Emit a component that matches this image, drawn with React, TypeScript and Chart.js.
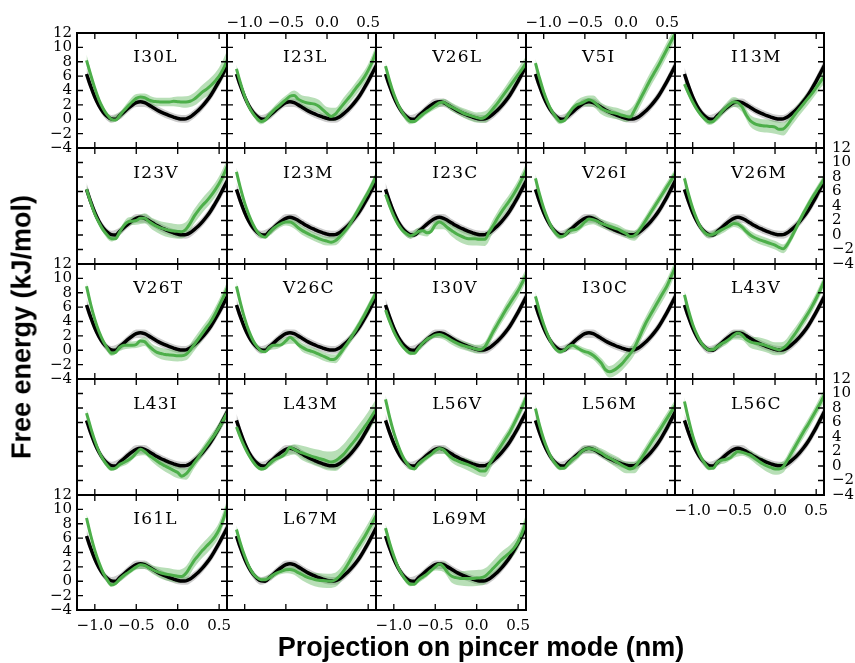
import React, { useEffect, useRef } from 'react';
import { Chart, registerables } from 'chart.js';

Chart.register(...registerables);

// ---------- data ----------
const xGrid = [
  -1.1, -1.05, -1.0, -0.95, -0.9, -0.85, -0.8, -0.75, -0.7, -0.65,
  -0.6, -0.55, -0.5, -0.45, -0.4, -0.35, -0.3, -0.25, -0.2, -0.15,
  -0.1, -0.05, 0.0, 0.05, 0.1, 0.15, 0.2, 0.25, 0.3, 0.35,
  0.4, 0.45, 0.5, 0.55, 0.6,
];
const bandGrid = [-1.1, -1.0, -0.9, -0.8, -0.7, -0.6, -0.5, -0.4, -0.3, -0.2, -0.1, 0.0, 0.1, 0.2, 0.3, 0.4, 0.5, 0.6];

const xTickValues = [-1.0, -0.5, 0.0, 0.5];
const yTickValues = [-4, -2, 0, 2, 4, 6, 8, 10, 12];

// wild type (black)
const WT = [6.3, 4.6, 3.1, 1.9, 1.0, 0.4, 0.05, 0.0, 0.5, 1.0, 1.5, 1.95, 2.3, 2.45, 2.3, 2.0, 1.65, 1.3, 1.0, 0.75, 0.5, 0.3, 0.12, 0.02, 0.05, 0.3, 0.75, 1.25, 1.85, 2.55, 3.35, 4.3, 5.3, 6.4, 7.5];
const WT_sd = [0.9, 0.6, 0.55, 0.55, 0.55, 0.55, 0.6, 0.6, 0.55, 0.55, 0.55, 0.55, 0.55, 0.6, 0.6, 0.65, 0.7, 0.8];

// mutants (green)
const I30L = [8.2, 6.2, 4.3, 2.7, 1.5, 0.6, 0.0, -0.1, 0.5, 1.2, 1.8, 2.4, 2.9, 3.1, 3.0, 2.7, 2.5, 2.45, 2.4, 2.4, 2.4, 2.5, 2.45, 2.4, 2.4, 2.5, 2.8, 3.3, 3.8, 4.2, 4.7, 5.3, 6.0, 7.0, 8.3];
const I30L_sd = [0.8, 0.4, 0.3, 0.4, 0.5, 0.6, 0.6, 0.6, 0.6, 0.6, 0.6, 0.7, 0.8, 0.9, 1.0, 1.1, 1.2, 1.3];
const I23L = [7.0, 5.0, 3.2, 1.8, 0.8, 0.1, -0.3, -0.1, 0.6, 1.2, 1.7, 2.2, 2.7, 3.2, 3.3, 2.8, 2.5, 2.3, 2.2, 2.1, 1.8, 1.3, 0.8, 0.4, 0.7, 1.4, 2.1, 2.8, 3.5, 4.3, 5.0, 5.8, 6.8, 8.0, 9.5];
const I23L_sd = [0.6, 0.4, 0.3, 0.4, 0.5, 0.6, 0.6, 0.7, 0.8, 0.9, 0.9, 0.9, 0.9, 0.9, 0.9, 0.9, 0.9, 0.9];
const V26L = [7.4, 5.3, 3.5, 2.1, 1.0, 0.2, -0.3, -0.3, 0.2, 0.7, 1.1, 1.5, 1.9, 2.3, 2.35, 2.0, 1.7, 1.4, 1.1, 0.8, 0.6, 0.4, 0.25, 0.1, 0.3, 0.8, 1.5, 2.2, 3.0, 3.8, 4.6, 5.4, 6.2, 7.0, 7.9];
const V26L_sd = [0.5, 0.4, 0.4, 0.4, 0.4, 0.4, 0.5, 0.5, 0.6, 0.6, 0.7, 0.7, 0.8, 0.8, 0.8, 0.9, 0.9, 0.9];
const V5I = [7.8, 5.7, 3.8, 2.3, 1.1, 0.3, -0.3, -0.2, 0.7, 1.5, 2.0, 2.2, 2.5, 2.7, 2.5, 2.0, 1.5, 1.2, 1.0, 0.9, 0.75, 0.55, 0.4, 0.3, 1.2, 2.3, 3.4, 4.5, 5.6, 6.6, 7.6, 8.7, 9.8, 10.9, 12.0];
const V5I_sd = [0.6, 0.4, 0.4, 0.4, 0.5, 0.6, 0.7, 0.8, 0.8, 0.8, 0.8, 0.8, 0.9, 1.0, 1.0, 1.0, 1.0, 1.0];
const I13M = [4.9, 3.6, 2.4, 1.4, 0.6, 0.0, -0.4, -0.3, 0.3, 1.0, 1.6, 2.1, 2.4, 2.3, 1.7, 0.6, -0.2, -0.6, -0.8, -0.9, -0.95, -1.0, -1.1, -1.4, -1.35, -0.8, 0.0, 0.8, 1.5, 2.2, 2.9, 3.6, 4.4, 5.2, 6.0];
const I13M_sd = [0.6, 0.4, 0.3, 0.4, 0.5, 0.6, 0.7, 0.7, 0.8, 0.9, 0.9, 0.9, 0.9, 0.9, 0.9, 0.9, 0.9, 1.0];
const I23V = [6.3, 4.5, 2.9, 1.7, 0.7, 0.0, -0.5, -0.5, 0.4, 1.3, 1.8, 1.9, 2.0, 2.3, 2.3, 1.9, 1.5, 1.2, 0.95, 0.8, 0.65, 0.55, 0.5, 0.45, 0.8, 1.6, 2.6, 3.4, 4.1, 4.7, 5.4, 6.2, 7.1, 8.2, 9.5];
const I23V_sd = [0.6, 0.4, 0.4, 0.4, 0.5, 0.6, 0.6, 0.7, 0.8, 0.9, 1.0, 1.0, 1.0, 1.0, 1.0, 1.0, 1.0, 1.0];
const I23M = [8.7, 6.4, 4.4, 2.8, 1.5, 0.5, -0.1, -0.3, 0.3, 0.9, 1.3, 1.6, 1.8, 1.8, 1.5, 1.0, 0.6, 0.3, 0.0, -0.25, -0.5, -0.7, -0.85, -1.0, -0.8, -0.3, 0.3, 1.0, 1.9, 2.9, 3.9, 4.9, 5.9, 7.0, 8.2];
const I23M_sd = [0.6, 0.4, 0.3, 0.3, 0.4, 0.5, 0.5, 0.6, 0.6, 0.6, 0.6, 0.6, 0.6, 0.6, 0.6, 0.6, 0.6, 0.6];
const I23C = [5.6, 4.0, 2.6, 1.5, 0.7, 0.2, -0.1, 0.1, 0.5, 0.6, 0.3, 0.5, 1.4, 1.8, 1.5, 1.0, 0.6, 0.2, -0.1, -0.35, -0.5, -0.5, -0.55, -0.6, -0.6, 0.4, 1.3, 2.3, 3.2, 4.0, 4.8, 5.7, 6.7, 7.8, 9.0];
const I23C_sd = [0.6, 0.4, 0.4, 0.4, 0.5, 0.5, 0.6, 0.7, 0.8, 0.9, 0.9, 0.9, 0.9, 0.9, 0.9, 0.9, 0.9, 0.9];
const V26I = [7.8, 5.6, 3.7, 2.2, 1.0, 0.2, -0.2, -0.1, 0.5, 0.7, 0.8, 1.2, 1.8, 2.2, 2.1, 1.9, 1.6, 1.4, 1.2, 1.0, 0.8, 0.5, 0.2, -0.2, -0.1, 0.5, 1.3, 2.2, 3.1, 4.0, 4.9, 5.8, 6.7, 7.6, 8.5];
const V26I_sd = [0.6, 0.4, 0.4, 0.4, 0.5, 0.5, 0.6, 0.6, 0.6, 0.6, 0.6, 0.6, 0.7, 0.7, 0.7, 0.7, 0.7, 0.7];
const V26M = [7.8, 5.6, 3.7, 2.2, 1.0, 0.3, 0.0, 0.1, 0.4, 0.7, 1.0, 1.3, 1.6, 1.5, 1.1, 0.5, 0.0, -0.35, -0.6, -0.8, -1.0, -1.2, -1.4, -1.7, -1.9, -1.3, -0.3, 0.8, 2.0, 3.1, 4.1, 5.1, 6.0, 6.9, 7.8];
const V26M_sd = [0.6, 0.4, 0.4, 0.4, 0.5, 0.5, 0.5, 0.5, 0.6, 0.6, 0.6, 0.6, 0.6, 0.6, 0.6, 0.6, 0.6, 0.6];
const V26T = [8.9, 6.4, 4.3, 2.6, 1.3, 0.3, -0.4, -0.3, 0.4, 0.7, 0.7, 0.7, 0.8, 1.3, 1.2, 0.6, 0.1, -0.3, -0.45, -0.6, -0.65, -0.7, -0.75, -0.75, -0.6, 0.0, 0.8, 1.6, 2.4, 3.2, 4.0, 5.0, 6.2, 7.4, 8.7];
const V26T_sd = [0.6, 0.4, 0.3, 0.4, 0.5, 0.5, 0.5, 0.6, 0.7, 0.8, 0.8, 0.8, 0.8, 0.9, 0.9, 0.9, 0.9, 0.9];
const V26C = [8.9, 6.5, 4.4, 2.7, 1.4, 0.5, -0.1, -0.2, 0.4, 0.7, 0.7, 0.8, 1.3, 1.8, 1.4, 0.8, 0.4, 0.1, -0.1, -0.3, -0.55, -0.8, -1.05, -1.3, -1.2, -0.6, 0.2, 1.0, 1.9, 2.8, 3.8, 4.8, 5.9, 7.0, 8.1];
const V26C_sd = [0.6, 0.4, 0.3, 0.3, 0.4, 0.5, 0.5, 0.5, 0.6, 0.6, 0.6, 0.6, 0.6, 0.6, 0.6, 0.6, 0.6, 0.6];
const I30V = [5.6, 4.0, 2.6, 1.5, 0.6, 0.0, -0.4, -0.4, 0.3, 1.0, 1.5, 1.8, 2.1, 2.2, 2.0, 1.7, 1.35, 1.05, 0.8, 0.6, 0.45, 0.3, 0.15, 0.1, 0.5, 1.5, 2.6, 3.6, 4.6, 5.6, 6.5, 7.4, 8.3, 9.4, 10.5];
const I30V_sd = [0.6, 0.4, 0.3, 0.3, 0.4, 0.4, 0.4, 0.5, 0.6, 0.6, 0.6, 0.6, 0.7, 0.8, 0.8, 0.9, 0.9, 0.9];
const I30C = [7.5, 5.4, 3.6, 2.1, 0.9, 0.1, -0.2, 0.0, 0.5, 0.7, 0.4, 0.05, -0.2, -0.35, -0.7, -1.2, -1.8, -2.7, -3.0, -2.8, -2.4, -1.9, -1.2, -0.5, 0.3, 1.5, 2.8, 4.0, 5.0, 6.0, 7.0, 8.0, 9.0, 10.3, 11.6];
const I30C_sd = [0.6, 0.4, 0.3, 0.3, 0.4, 0.4, 0.5, 0.6, 0.7, 0.8, 0.9, 1.0, 1.0, 1.0, 1.0, 1.0, 1.0, 1.0];
const L43V = [7.7, 5.5, 3.6, 2.2, 1.1, 0.4, 0.05, 0.1, 0.5, 0.9, 1.2, 1.6, 2.1, 2.4, 2.1, 1.5, 1.15, 1.0, 0.9, 0.8, 0.6, 0.4, 0.2, 0.05, 0.3, 0.8, 1.6, 2.4, 3.3, 4.2, 5.1, 6.1, 7.2, 8.4, 9.7];
const L43V_sd = [0.6, 0.4, 0.3, 0.3, 0.4, 0.5, 0.6, 0.7, 0.8, 0.9, 0.9, 0.9, 0.9, 0.9, 0.8, 0.8, 0.8, 0.8];
const L43I = [7.3, 5.3, 3.5, 2.0, 0.9, 0.1, -0.4, -0.3, 0.2, 0.5, 0.8, 1.2, 1.8, 2.3, 2.0, 1.5, 1.1, 0.7, 0.3, 0.0, -0.3, -0.6, -0.9, -1.4, -1.1, -0.4, 0.4, 1.2, 2.0, 2.8, 3.6, 4.4, 5.3, 6.3, 7.4];
const L43I_sd = [0.6, 0.4, 0.3, 0.3, 0.4, 0.5, 0.5, 0.5, 0.6, 0.7, 0.8, 0.8, 0.8, 0.7, 0.7, 0.7, 0.7, 0.7];
const L43M = [5.4, 3.9, 2.6, 1.5, 0.6, -0.1, -0.4, -0.3, 0.3, 0.8, 1.1, 1.3, 1.8, 2.6, 2.3, 2.0, 1.8, 1.6, 1.4, 1.2, 1.05, 0.9, 0.7, 0.55, 0.7, 1.1, 1.6, 2.3, 3.0, 3.7, 4.5, 5.3, 6.1, 7.0, 7.9];
const L43M_sd = [0.6, 0.4, 0.3, 0.3, 0.4, 0.4, 0.5, 0.7, 1.0, 1.1, 1.2, 1.3, 1.4, 1.4, 1.4, 1.4, 1.4, 1.4];
const L56V = [9.2, 6.7, 4.6, 2.9, 1.5, 0.5, -0.2, -0.4, 0.3, 0.8, 1.2, 1.6, 2.1, 2.4, 2.2, 1.6, 1.1, 0.8, 0.55, 0.35, 0.15, -0.1, -0.4, -0.7, -0.7, 0.2, 1.1, 2.0, 2.9, 3.8, 4.7, 5.8, 7.0, 8.2, 9.5];
const L56V_sd = [0.6, 0.4, 0.3, 0.3, 0.4, 0.4, 0.5, 0.5, 0.6, 0.7, 0.8, 0.8, 0.8, 0.8, 0.8, 0.8, 0.8, 0.8];
const L56M = [7.9, 5.6, 3.7, 2.2, 1.0, 0.2, -0.3, -0.3, 0.3, 0.9, 1.3, 1.9, 2.3, 2.4, 2.3, 2.1, 1.8, 1.4, 1.1, 0.8, 0.45, 0.1, -0.2, -0.4, -0.2, 0.5, 1.3, 2.2, 3.1, 4.0, 4.8, 5.7, 6.6, 7.5, 8.4];
const L56M_sd = [0.6, 0.4, 0.3, 0.3, 0.4, 0.5, 0.5, 0.5, 0.6, 0.7, 0.8, 0.8, 0.8, 0.8, 0.8, 0.8, 0.8, 0.8];
const L56C = [8.9, 6.4, 4.2, 2.5, 1.2, 0.3, -0.3, -0.3, 0.5, 0.8, 0.9, 1.1, 1.6, 2.0, 1.9, 1.7, 1.5, 1.1, 0.7, 0.3, 0.0, -0.2, -0.4, -0.4, -0.1, 0.8, 1.8, 2.8, 3.8, 4.8, 5.7, 6.7, 7.7, 8.7, 9.8];
const L56C_sd = [0.6, 0.4, 0.3, 0.3, 0.4, 0.5, 0.5, 0.5, 0.6, 0.7, 0.8, 0.8, 0.8, 0.8, 0.8, 0.8, 0.8, 0.9];
const I61L = [8.8, 6.4, 4.3, 2.6, 1.2, 0.2, -0.5, -0.3, 0.3, 0.8, 1.2, 1.6, 2.0, 2.3, 2.2, 1.9, 1.6, 1.35, 1.15, 1.0, 0.9, 0.8, 0.7, 0.65, 1.1, 2.0, 2.9, 3.6, 4.3, 4.9, 5.5, 6.2, 7.2, 8.6, 10.4];
const I61L_sd = [0.6, 0.4, 0.3, 0.3, 0.4, 0.4, 0.4, 0.5, 0.6, 0.8, 0.9, 0.9, 1.0, 1.0, 1.0, 1.0, 1.0, 1.0];
const L67M = [7.2, 5.2, 3.5, 2.1, 1.1, 0.5, 0.2, 0.2, 0.5, 0.9, 1.2, 1.4, 1.6, 1.65, 1.5, 1.2, 0.9, 0.6, 0.4, 0.25, 0.15, 0.1, 0.05, 0.0, 0.2, 0.7, 1.4, 2.3, 3.3, 4.3, 5.2, 6.1, 7.1, 8.1, 9.2];
const L67M_sd = [0.6, 0.4, 0.3, 0.3, 0.4, 0.4, 0.5, 0.6, 0.8, 0.9, 1.0, 1.0, 1.0, 1.0, 1.0, 1.0, 1.0, 1.0];
const L69M = [7.4, 5.3, 3.5, 2.0, 0.9, 0.1, -0.4, -0.4, 0.2, 0.6, 1.0, 1.5, 2.0, 2.4, 2.0, 1.2, 0.7, 0.5, 0.4, 0.4, 0.4, 0.4, 0.45, 0.5, 0.7, 1.2, 1.8, 2.4, 3.0, 3.5, 4.0, 4.6, 5.5, 6.8, 8.4];
const L69M_sd = [0.6, 0.4, 0.3, 0.3, 0.4, 0.4, 0.5, 0.7, 0.9, 1.0, 1.1, 1.1, 1.1, 1.1, 1.1, 1.0, 1.0, 1.0];

const mutants = [
  { name: 'I30L', energy: I30L, spread: I30L_sd },
  { name: 'I23L', energy: I23L, spread: I23L_sd },
  { name: 'V26L', energy: V26L, spread: V26L_sd },
  { name: 'V5I', energy: V5I, spread: V5I_sd },
  { name: 'I13M', energy: I13M, spread: I13M_sd },
  { name: 'I23V', energy: I23V, spread: I23V_sd },
  { name: 'I23M', energy: I23M, spread: I23M_sd },
  { name: 'I23C', energy: I23C, spread: I23C_sd },
  { name: 'V26I', energy: V26I, spread: V26I_sd },
  { name: 'V26M', energy: V26M, spread: V26M_sd },
  { name: 'V26T', energy: V26T, spread: V26T_sd },
  { name: 'V26C', energy: V26C, spread: V26C_sd },
  { name: 'I30V', energy: I30V, spread: I30V_sd },
  { name: 'I30C', energy: I30C, spread: I30C_sd },
  { name: 'L43V', energy: L43V, spread: L43V_sd },
  { name: 'L43I', energy: L43I, spread: L43I_sd },
  { name: 'L43M', energy: L43M, spread: L43M_sd },
  { name: 'L56V', energy: L56V, spread: L56V_sd },
  { name: 'L56M', energy: L56M, spread: L56M_sd },
  { name: 'L56C', energy: L56C, spread: L56C_sd },
  { name: 'I61L', energy: I61L, spread: I61L_sd },
  { name: 'L67M', energy: L67M, spread: L67M_sd },
  { name: 'L69M', energy: L69M, spread: L69M_sd },
];

// ---------- layout / style ----------
const COL_EDGES = [77, 227, 376, 526, 675, 824];
const ROW_EDGES = [33, 148, 264, 379, 495, 610];
const M = 45;
const X_MIN = -1.215;
const X_MAX = 0.595;
const Y_MIN = -4;
const Y_MAX = 12;
const LABEL_X = -0.535;
const LABEL_Y = 7.9;
const GREEN = '#4daf4a';
const GREEN_BAND = 'rgba(77,175,74,0.4)';
const GRAY_BAND = 'rgba(0,0,0,0.2)';
const TICK_FONT = { family: '"DejaVu Serif", serif', size: 15 };

const fmtX = (v: number) => (v < 0 ? '\u2212' : '') + Math.abs(v).toFixed(1);
const fmtY = (v: number) => (v < 0 ? '\u2212' : '') + String(Math.abs(v));

const panelDecor = {
  id: 'panelDecor',
  afterDatasetsDraw(chart: any, _args: any, opts: any) {
    const { ctx, chartArea: a, scales } = chart;
    const xs = scales.x;
    const ys = scales.y;
    ctx.save();
    ctx.strokeStyle = '#000';
    ctx.lineWidth = 1.3;
    ctx.beginPath();
    for (const v of xTickValues) {
      const px = xs.getPixelForValue(v);
      ctx.moveTo(px, a.bottom);
      ctx.lineTo(px, a.bottom - 6);
      ctx.moveTo(px, a.top);
      ctx.lineTo(px, a.top + 6);
    }
    for (const v of yTickValues) {
      if (v <= Y_MIN || v >= Y_MAX) continue;
      const py = ys.getPixelForValue(v);
      ctx.moveTo(a.left, py);
      ctx.lineTo(a.left + 6, py);
      ctx.moveTo(a.right, py);
      ctx.lineTo(a.right - 6, py);
    }
    ctx.stroke();
    ctx.lineWidth = 2;
    ctx.strokeRect(a.left, a.top, a.right - a.left, a.bottom - a.top);
    ctx.fillStyle = '#000';
    ctx.font = '17px "DejaVu Serif", serif';
    try { (ctx as any).letterSpacing = '1.2px'; } catch (e) { /* ignore */ }
    ctx.textAlign = 'left';
    ctx.textBaseline = 'alphabetic';
    ctx.fillText(opts.label, xs.getPixelForValue(LABEL_X), ys.getPixelForValue(LABEL_Y));
    ctx.restore();
  },
};

function buildConfig(idx: number, row: number, col: number): any {
  const m = mutants[idx];
  const line = (vals: number[]) => xGrid.map((x, i) => ({ x, y: vals[i] }));
  const band = (vals: number[], sd: number[], sign: number) =>
    bandGrid.map((x, i) => ({ x, y: vals[2 * i] + sign * sd[i] }));
  const clear = 'rgba(0,0,0,0)';

  const showYLeft = col === 0 && row % 2 === 0;
  const showYRight = col === 4 && row % 2 === 1;
  const showXTop = row === 0 && (col === 1 || col === 3);
  const showXBottom = (row === 4 && (col === 0 || col === 2)) || (row === 3 && col === 4);

  const xAxis = (position: string, show: boolean, padding: number) => ({
    type: 'linear',
    axis: 'x',
    position,
    min: X_MIN,
    max: X_MAX,
    afterBuildTicks: (s: any) => { s.ticks = xTickValues.map((v) => ({ value: v })); },
    afterFit: (s: any) => { s.height = M; },
    grid: { display: false, drawTicks: false },
    border: { display: false },
    ticks: { display: show, font: TICK_FONT, color: '#000', padding, autoSkip: false, maxRotation: 0, callback: (v: number) => fmtX(v) },
  });
  const yAxis = (position: string, show: boolean, padding: number) => ({
    type: 'linear',
    axis: 'y',
    position,
    min: Y_MIN,
    max: Y_MAX,
    afterFit: (s: any) => { s.width = M; },
    grid: { display: false, drawTicks: false },
    border: { display: false },
    ticks: { display: show, stepSize: 2, font: TICK_FONT, color: '#000', padding, autoSkip: false, callback: (v: number) => fmtY(v) },
  });

  return {
    type: 'line',
    data: {
      datasets: [
        { label: 'wt-low', data: band(WT, WT_sd, -1), borderColor: clear, borderWidth: 0, fill: false, order: 6 },
        { label: 'wt-high', data: band(WT, WT_sd, 1), borderColor: clear, borderWidth: 0, fill: { target: 0 }, backgroundColor: GRAY_BAND, order: 5 },
        { label: 'mut-low', data: band(m.energy, m.spread, -1), borderColor: clear, borderWidth: 0, fill: false, order: 4 },
        { label: 'mut-high', data: band(m.energy, m.spread, 1), borderColor: clear, borderWidth: 0, fill: { target: 2 }, backgroundColor: GREEN_BAND, order: 3 },
        { label: 'WT', data: line(WT), borderColor: '#000', borderWidth: 3.5, fill: false, order: 2 },
        { label: m.name, data: line(m.energy), borderColor: GREEN, borderWidth: 3, fill: false, order: 1 },
      ],
    },
    options: {
      animation: false,
      responsive: false,
      devicePixelRatio: 1,
      events: [],
      layout: { padding: 0 },
      elements: {
        point: { radius: 0, hoverRadius: 0 },
        line: { cubicInterpolationMode: 'monotone', borderJoinStyle: 'round' },
      },
      plugins: {
        legend: { display: false },
        tooltip: { enabled: false },
        title: { display: false },
        panelDecor: { label: m.name },
      },
      scales: {
        x: xAxis('bottom', showXBottom, 7),
        x2: xAxis('top', showXTop, 1),
        y: yAxis('left', showYLeft, 5),
        y2: yAxis('right', showYRight, 8),
      },
    },
    plugins: [panelDecor],
  };
}

function Panel({ idx }: { idx: number }) {
  const ref = useRef<HTMLCanvasElement>(null);
  const row = Math.floor(idx / 5);
  const col = idx % 5;
  const left = COL_EDGES[col];
  const top = ROW_EDGES[row];
  const w = COL_EDGES[col + 1] - left + 2 * M;
  const h = ROW_EDGES[row + 1] - top + 2 * M;
  useEffect(() => {
    const chart = new Chart(ref.current as HTMLCanvasElement, buildConfig(idx, row, col));
    return () => chart.destroy();
  }, [idx]);
  return (
    <canvas
      ref={ref}
      width={w}
      height={h}
      style={{ position: 'absolute', left: left - M, top: top - M, width: w, height: h }}
    />
  );
}

export default function App() {
  return (
    <div style={{ position: 'absolute', left: 0, top: 0, width: 855, height: 663, overflow: 'hidden', background: '#fff' }}>
      {mutants.map((m, i) => (
        <Panel key={m.name} idx={i} />
      ))}
      <div
        style={{
          position: 'absolute', left: 22, top: 327, transform: 'translate(-50%, -50%) rotate(-90deg)',
          font: 'bold 27px "Liberation Sans", Arial, sans-serif', lineHeight: 1, whiteSpace: 'nowrap', color: '#000',
        }}
      >
        Free energy (kJ/mol)
      </div>
      <div
        style={{
          position: 'absolute', left: 481, top: 634, transform: 'translateX(-50%)',
          font: 'bold 27px "Liberation Sans", Arial, sans-serif', lineHeight: 1, whiteSpace: 'nowrap', color: '#000',
        }}
      >
        Projection on pincer mode (nm)
      </div>
    </div>
  );
}
